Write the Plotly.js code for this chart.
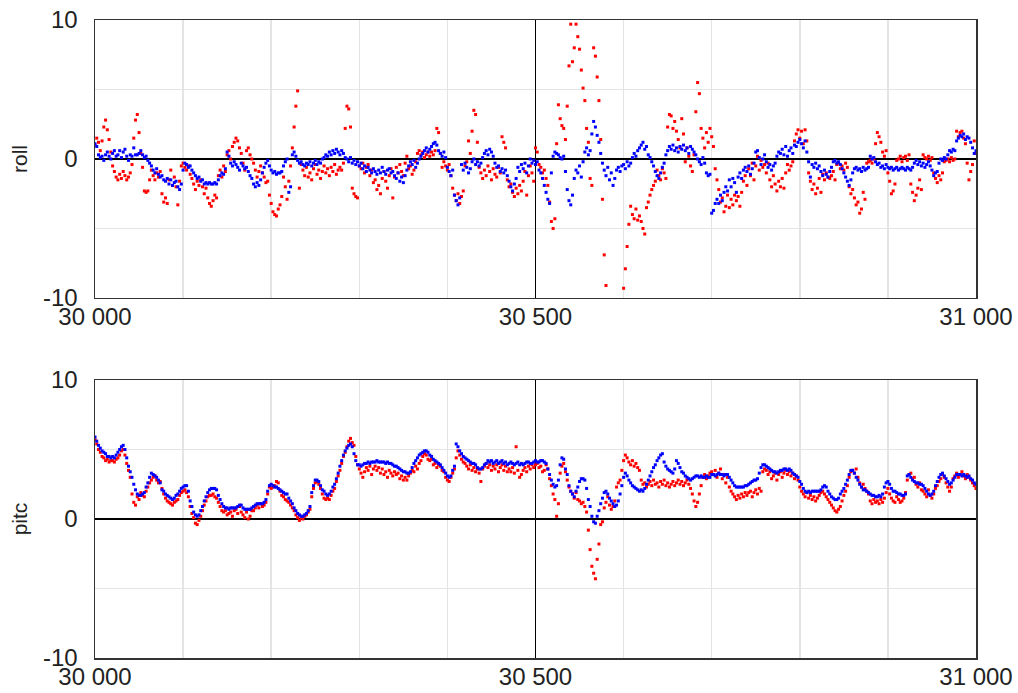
<!DOCTYPE html>
<html>
<head>
<meta charset="utf-8">
<script src="https://cdn.plot.ly/plotly-3.0.1.min.js"></script>
<style>
  html, body { margin: 0; padding: 0; background: #fff; }
  #chart { width: 1018px; height: 693px; }
</style>
</head>
<body>
<div id="chart"></div>
<script>
// sample index of the first value and spacing between samples
const xStart = 30000;
const xStep = 2;

const xTickVals = [30000, 30500, 31000];
const xTickText = ['30 000', '30 500', '31 000'];
const yTickVals = [-10, 0, 10];
const yTickText = ['-10', '0', '10'];
const panelTitles = ['roll', 'pitc'];

const rollBlue = [
 1.1, 0.9, 0.3, 0.1, 0.2, -0.1, 0.3, 0.5, 0.2, 0.0,
 0.4, 0.6, 0.2, 0.3, 0.6, 0.1, 0.5, 0.7, 0.2, -0.1,
 0.3, 0.2, 0.8, 0.3, 0.3, 0.4, 0.6, 0.3, 0.1, 0.2,
 -0.1, -0.3, -0.5, -0.8, -1.0, -0.7, -1.1, -1.3, -1.2, -1.5,
 -1.6, -1.4, -1.8, -1.5, -1.9, -1.7, -1.6, -2.0, -2.2, -1.8,
 -0.8, -0.3, -0.4, -0.6, -0.5, -0.8, -1.0, -1.2, -1.4, -1.3,
 -1.6, -1.5, -1.8, -1.7, -1.8, -1.7, -1.8, -1.8, -1.7, -1.8,
 -1.5, -1.2, -1.0, -1.1, -0.7, 0.5, 0.2, -0.3, -0.5, -0.2,
 -0.4, -0.6, -0.8, -0.3, -0.5, -0.7, -0.6, -0.9, -1.2, -1.4,
 -1.8, -2.0, -1.7, -1.9, -1.5, -1.0, -0.6, -0.3, -0.1, -0.5,
 -0.8, -1.0, -0.9, -1.1, -1.0, -1.0, -0.9, -0.5, -0.2, 0.0,
 -2.4, -2.0, 0.3, 0.5, 0.2, -0.1, -0.3, -0.2, -0.4, -0.5,
 -0.3, -0.4, -0.2, -0.5, -0.3, -0.1, -0.4, -0.2, -0.3, 0.0,
 0.1, 0.3, 0.2, 0.5, 0.3, 0.6, 0.4, 0.7, 0.5, 0.3,
 0.6, 0.4, 0.1, 0.0, -0.2, 0.1, -0.3, -0.1, -0.4, -0.2,
 -0.5, -0.3, -0.7, -0.5, -0.9, -0.6, -0.8, -1.0, -0.7, -0.9,
 -1.1, -0.8, -1.0, -0.6, -0.9, -1.1, -0.8, -0.7, -1.0, -0.9,
 -1.2, -1.4, -1.0, -1.6, -1.3, -1.7, -1.2, -0.8, -0.5, -0.2,
 -0.4, -0.1, -0.6, -0.3, 0.0, 0.2, 0.4, 0.6, 0.8, 0.5,
 0.7, 0.9, 1.1, 1.2, 1.0, 0.6, 0.4, 0.2, 0.5, 0.1,
 -0.6, -0.9, -1.2, -0.8, -2.6, -3.0, -3.3, -2.8, -0.4, -0.8,
 -0.3, -0.6, -1.0, -0.7, -0.2, 0.0, -0.4, -0.2, -0.5, -0.3,
 0.1, 0.4, 0.6, 0.3, 0.7, 0.5, 0.2, -0.3, -0.6, -0.5,
 -0.9, -0.7, -1.0, -0.8, -1.2, -1.6, -2.0, -2.3, -1.8, -1.4,
 -0.6, -0.9, -0.4, -0.7, -0.3, -1.0, -0.5, 0.0, -0.3, -0.1,
 -0.4, -0.2, -0.8, -1.0, -1.4, -1.9, -2.4, -2.9, -3.2, -1.0,
 0.2, 0.5, 0.4, 0.3, 0.1, 0.0, 0.2, -0.9, -2.2, -3.0,
 -3.3, -2.6, -1.4, -0.8, -1.0, -0.5, -1.3, -0.2, 0.5, 0.8,
 0.3, 0.6, 1.8, 2.7, 2.3, 1.7, 1.2, 0.4, -0.3, -0.8,
 -1.2, -0.6, -1.5, -1.0, -1.9, -1.4, -0.8, -0.6, -0.9, -0.5,
 -0.4, -0.7, -0.2, -0.5, -0.3, 0.1, 0.4, 0.2, 0.6, 0.8,
 1.0, 1.2, 0.7, 0.9, 0.3, 0.1, -0.2, -0.5, -0.9, -1.2,
 -1.4, -1.0, -0.6, -0.3, 0.3, 0.6, 0.9, 0.7, 1.0, 0.6,
 0.8, 0.5, 0.9, 0.7, 1.0, 0.6, 0.8, 0.4, 0.9, 0.7,
 0.5, 0.3, 0.0, -0.2, -0.4, 0.1, -0.3, -1.0, -1.2, -1.1,
 -3.9, -3.7, -3.2, -2.9, -3.2, -2.6, -3.0, -2.4, -2.0, -2.3,
 -1.5, -2.0, -1.4, -1.7, -2.4, -1.3, -1.0, -1.4, -0.8, -0.6,
 -0.9, -0.5, -1.1, -0.7, -0.3, 0.5, 0.6, 0.1, -0.4, 0.0,
 0.3, -0.2, -0.6, -0.4, -0.8, -0.5, -0.3, 0.2, 0.5, 0.4,
 0.7, 0.3, 0.9, 0.2, 0.6, 0.8, 0.4, 1.0, 0.9, 1.2,
 1.4, 1.1, 0.8, 1.3, 0.5, -0.2, -1.3, -0.4, -0.6, -0.3,
 -0.7, -0.5, -0.9, -1.2, -0.8, -1.1, -1.3, -0.9, -0.6, -0.2,
 -0.1, -0.3, -0.2, -0.4, -0.7, -1.0, -1.3, -1.6, -1.9, -1.5,
 -1.0, -0.7, -0.6, -0.8, -0.7, -0.9, -0.6, -0.8, -0.7, -0.6,
 0.2, 0.0, 0.1, -0.2, -0.4, -0.3, -0.6, -0.5, -0.7, -0.4,
 -0.6, -0.7, -0.6, -0.8, -0.7, -0.6, -0.8, -0.7, -0.6, -0.7,
 -0.8, -0.6, -0.7, -0.8, -0.6, -0.3, -0.1, -0.4, -0.2, -0.5,
 -0.3, -0.6, -0.4, -0.2, -0.5, -0.8, -1.2, -1.0, -0.9, -0.3,
 0.0, -0.1, 0.1, 0.0, 0.3, 0.6, 0.5, 0.7, 0.6, 1.3,
 1.5, 1.7, 1.6, 1.8, 1.4, 1.6, 1.5, 1.2, 0.8, 0.4,
 0.6
];

const rollRed = [
 1.0, 1.5, 1.2, 0.6, 1.3, 2.3, 2.8, 2.1, 1.4, 0.5,
 -0.5, -0.9, -1.3, -1.5, -1.1, -1.4, -0.9, -1.2, -1.5, -1.3,
 -1.0, -0.4, 1.5, 2.8, 3.2, 1.9, 0.4, -0.6, -2.3, -2.4,
 -2.3, -1.5, -0.8, -1.2, -1.5, -1.0, -1.3, -0.9, -2.5, -3.1,
 -2.8, -3.2, -1.5, -0.8, -1.9, -1.3, -2.0, -3.3, -1.6, -0.5,
 -0.3, -0.6, -0.8, -0.5, -1.1, -1.4, -1.8, -2.2, -1.6, -1.9,
 -1.5, -2.0, -2.5, -2.1, -2.8, -3.2, -3.4, -3.0, -2.6, -2.8,
 -1.2, -0.8, -1.3, -0.5, -0.9, 0.3, 0.6, 0.0, 0.9, 1.2,
 1.5, 1.3, 0.8, 0.4, -0.3, -0.8, 0.6, 0.8, 0.3, 0.0,
 -0.3, -0.8, -1.3, -0.9, -0.5, -1.0, -1.3, -1.7, -1.6, -2.6,
 -3.2, -3.8, -4.0, -4.1, -3.6, -3.3, -2.7, -1.3, -2.0, -2.9,
 -1.6, -0.5, 0.8, 2.3, 3.8, 4.9, -2.1, -0.4, -0.8, -1.2,
 -0.6, -1.3, -1.0, -1.5, -0.7, -0.4, -1.1, -0.8, -1.4, -0.9,
 -0.5, -1.0, -0.7, -1.2, -0.6, -0.9, -0.4, -1.1, -0.8, -0.6,
 -0.8, -0.3, 2.2, 3.8, 3.6, 2.3, -2.1, -2.5, -2.7, -2.8,
 -0.5, -0.7, -0.3, -1.0, -0.6, -0.4, -1.2, -0.8, -1.7, -1.5,
 -2.2, -1.9, -2.5, -1.4, -0.9, -1.6, -2.1, -1.2, -0.7, -2.8,
 -1.3, -0.6, -1.0, -0.4, -0.9, -1.2, -0.3, 0.2, -0.7, -0.5,
 -1.1, -0.8, -0.2, 0.4, 0.6, 0.3, 0.5, 0.1, 0.3, 0.5,
 0.2, 0.5, 0.3, 0.6, 2.2, 1.9, 0.4, -0.6, -0.2, -0.5,
 -0.8, -0.4, -1.2, -2.1, -2.6, -3.0, -2.5, -3.2, -2.7, -2.3,
 -0.5, -0.2, 1.3, 0.4, 2.0, 3.5, 3.2, 1.2, -0.6, -1.0,
 -1.4, -0.8, -1.2, -0.5, -0.9, -1.5, -0.7, -1.1, -1.3, -0.6,
 -1.0, 1.6, 1.2, 0.8, -1.5, -2.0, -1.8, -2.4, -2.7, -2.1,
 -2.5, -1.9, -2.3, -1.6, -0.9, -2.6, -1.2, -0.5, -1.0, -1.6,
 0.8, 0.5, -0.4, -0.6, -1.0, -0.8, -1.4, -1.9, -3.1, -4.5,
 -5.0, -4.3, 1.1, 3.9, 2.9, 2.4, 2.2, 1.4, 3.8, 6.7,
 9.7, 7.0, 8.0, 9.7, 8.8, 7.9, 6.4, 5.1, 4.2, 2.2,
 1.2, -1.4, -1.9, 8.0, 7.4, 5.9, 4.2, 1.4, -2.9, -6.9,
 -9.1, -11.5, -12.5, -13.0, -13.5, -13.2, -12.8, -12.0, -11.5, -10.8,
 -9.3, -7.9, -6.3, -4.7, -3.4, -4.0, -4.3, -3.6, -4.4, -4.1,
 -4.5, -5.0, -5.4, -3.5, -3.1, -2.6, -2.2, -1.9, -1.6, -0.8,
 -1.2, -1.5, -0.7, -1.0, -1.4, 2.3, 3.2, 3.1, 2.2, 2.7,
 2.0, 1.4, 0.8, 2.9, 1.8, -0.2, 0.8, 0.2, -0.5, -0.9,
 0.3, 3.4, 5.5, 4.7, 2.2, 1.5, 0.8, 1.9, 1.2, 2.2,
 1.6, 0.9, -0.7, -1.5, -2.2, -3.1, -2.8, -3.8, -3.4, -2.6,
 -3.5, -2.9, -3.3, -2.6, -3.0, -2.7, -3.4, -2.4, -1.6, -1.2,
 -1.9, -0.7, -1.2, -0.3, -1.5, -0.5, 0.2, -0.8, -0.1, -0.6,
 -0.4, -1.0, -0.3, -1.5, -2.0, -1.2, -1.8, -2.3, -1.6, -2.0,
 -1.4, -2.1, -1.0, -0.4, -0.8, -0.5, -0.2, 1.3, 1.8, 2.1,
 1.5, 2.0, 1.1, 2.1, 1.3, -1.0, -1.6, -2.2, -1.8, -2.5,
 -2.1, -1.4, -2.4, -1.1, -1.5, -1.0, -1.3, -1.4, -1.2, -0.9,
 -1.5, -0.4, -0.3, -0.7, -0.5, -0.8, -0.3, -0.6, -2.0, -2.5,
 -2.2, -2.8, -3.3, -3.1, -3.9, -3.6, -2.4, -2.9, -0.3, -0.2,
 -0.1, -0.3, 0.0, 1.1, 1.9, 1.6, 1.2, 0.5, 0.2, 0.6,
 -1.0, -1.6, -2.5, -2.3, -1.8, -0.1, 0.0, 0.2, -0.2, 0.1,
 0.2, -0.1, 0.3, -1.8, -2.4, -3.0, -2.6, -2.1, -1.5, -2.2,
 0.3, 0.1, 0.0, 0.2, -0.1, 0.1, -1.0, -1.4, -1.7, -1.2,
 -1.5, -1.0, -0.2, -0.1, 0.0, -0.2, 0.1, -0.1, 0.0, 2.0,
 1.6, 1.9, 2.0, 1.5, 1.1, -0.3, -1.5, -0.9, -0.4, 1.3,
 0.4
];

const pitchBlue = [
 5.9, 5.6, 5.3, 5.1, 4.9, 4.8, 4.7, 4.5, 4.5, 4.4,
 4.5, 4.4, 4.6, 4.8, 5.0, 5.2, 5.3, 5.0, 4.4, 3.8,
 3.4, 3.0, 2.5, 2.1, 1.8, 1.7, 1.7, 1.8, 1.9, 2.3,
 2.6, 3.0, 3.3, 3.2, 3.1, 3.0, 2.8, 2.6, 2.1, 2.0,
 1.8, 1.7, 1.6, 1.5, 1.4, 1.5, 1.7, 1.8, 2.0, 2.2,
 2.3, 2.4, 2.4, 2.0, 1.3, 0.9, 0.5, 0.3, 0.2, 0.3,
 0.6, 0.9, 1.3, 1.6, 1.9, 2.1, 2.2, 2.2, 2.2, 2.1,
 1.7, 1.4, 1.1, 0.9, 0.8, 0.8, 0.7, 0.8, 0.8, 0.8,
 0.8, 0.9, 1.0, 1.0, 0.8, 0.7, 0.7, 0.7, 0.7, 0.8,
 0.9, 1.0, 1.1, 1.1, 1.1, 1.1, 1.2, 1.4, 2.0, 2.4,
 2.5, 2.4, 2.3, 2.3, 2.2, 2.1, 2.0, 1.9, 1.8, 1.8,
 1.5, 1.3, 1.1, 0.8, 0.6, 0.4, 0.3, 0.2, 0.2, 0.3,
 0.4, 0.6, 0.9, 1.9, 2.4, 2.8, 2.8, 2.7, 2.4, 2.1,
 2.0, 1.8, 1.7, 1.8, 2.0, 2.3, 2.5, 2.9, 3.3, 3.8,
 4.2, 4.6, 4.9, 5.1, 5.3, 5.4, 5.2, 4.7, 4.2, 3.9,
 3.9, 3.8, 3.9, 4.0, 4.0, 4.1, 4.0, 4.1, 4.1, 4.1,
 4.2, 4.1, 4.1, 4.1, 4.1, 4.0, 4.1, 4.0, 4.0, 3.9,
 3.8, 3.8, 3.7, 3.6, 3.5, 3.4, 3.4, 3.3, 3.3, 3.4,
 3.7, 4.0, 4.2, 4.4, 4.6, 4.7, 4.8, 4.9, 4.9, 4.8,
 4.6, 4.5, 4.3, 4.2, 4.1, 4.0, 3.9, 3.7, 3.5, 3.3,
 3.1, 3.0, 3.1, 3.5, 3.8, 5.4, 5.2, 4.9, 4.7, 4.5,
 4.4, 4.3, 4.2, 4.1, 4.0, 4.0, 3.9, 3.7, 3.6, 3.6,
 3.7, 3.9, 4.0, 4.2, 4.1, 4.2, 4.0, 4.1, 4.2, 4.0,
 4.1, 4.2, 4.0, 4.1, 3.9, 4.0, 4.1, 4.0, 3.9, 4.0,
 4.1, 3.9, 4.0, 3.9, 4.0, 4.1, 4.1, 4.0, 4.0, 4.1,
 4.2, 4.1, 4.1, 4.2, 4.2, 4.1, 4.0, 3.6, 3.2, 2.8,
 2.5, 2.3, 2.4, 2.8, 3.9, 4.4, 4.3, 3.6, 3.2, 2.4,
 2.0, 1.8, 1.6, 2.0, 2.3, 2.7, 2.9, 2.9, 2.8, 2.2,
 1.4, 0.9, 0.2, -0.2, -0.3, 0.2, 0.6, 1.1, 1.5, 1.9,
 2.0, 1.8, 1.5, 1.3, 1.1, 0.9, 1.0, 1.3, 1.8, 2.4,
 3.0, 3.3, 3.1, 2.8, 2.6, 2.4, 2.3, 2.2, 2.1, 2.0,
 2.1, 2.0, 2.2, 2.5, 2.8, 3.1, 3.4, 3.7, 3.9, 4.2,
 4.4, 4.6, 4.7, 4.1, 3.8, 3.6, 3.5, 3.4, 3.3, 3.6,
 4.2, 4.0, 3.7, 3.4, 3.3, 3.1, 3.0, 2.9, 2.8, 2.9,
 3.0, 3.1, 3.1, 3.0, 3.1, 3.0, 3.0, 3.1, 3.0, 3.0,
 3.2, 3.2, 3.1, 3.2, 3.3, 3.2, 3.2, 3.1, 3.2, 3.2,
 3.0, 2.8, 2.6, 2.4, 2.3, 2.3, 2.3, 2.3, 2.3, 2.4,
 2.4, 2.5, 2.6, 2.7, 2.8, 2.8, 2.9, 3.3, 3.7, 3.9,
 3.9, 3.8, 3.7, 3.6, 3.5, 3.4, 3.4, 3.3, 3.4, 3.5,
 3.5, 3.6, 3.6, 3.5, 3.6, 3.5, 3.3, 3.2, 3.1, 3.0,
 2.7, 2.5, 2.2, 2.0, 1.9, 2.0, 1.9, 2.0, 2.0, 2.0,
 2.0, 2.0, 2.1, 2.3, 2.4, 2.3, 2.0, 1.8, 1.6, 1.5,
 1.4, 1.4, 1.5, 1.8, 2.0, 2.2, 2.5, 2.8, 3.2, 3.5,
 3.5, 3.3, 3.0, 2.8, 2.5, 2.3, 2.1, 2.1, 2.0, 1.9,
 1.8, 1.7, 1.7, 1.6, 1.6, 1.7, 1.6, 1.8, 2.3, 2.6,
 2.7, 2.5, 2.2, 2.0, 2.0, 1.9, 1.8, 1.8, 1.7, 1.7,
 1.8, 3.1, 3.2, 3.0, 2.8, 2.7, 2.6, 2.6, 2.5, 2.5,
 2.4, 2.2, 2.0, 1.8, 1.7, 1.8, 2.0, 2.4, 2.7, 3.0,
 3.2, 3.3, 3.1, 2.9, 2.7, 2.5, 2.6, 2.8, 3.0, 3.2,
 3.2, 3.2, 3.1, 3.2, 3.1, 3.0, 3.1, 2.9, 2.8, 2.6,
 2.5
];

const pitchRed = [
 5.7, 5.4, 5.0, 4.8, 4.5, 4.4, 4.2, 4.3, 4.1, 4.2,
 4.2, 4.1, 4.3, 4.4, 4.6, 4.9, 5.0, 4.6, 4.0, 3.5,
 3.0, 1.8, 1.2, 1.0, 1.6, 1.4, 1.9, 1.7, 1.6, 2.0,
 2.3, 2.6, 2.8, 3.0, 3.1, 2.8, 2.6, 2.7, 2.2, 1.8,
 1.5, 1.3, 1.2, 1.1, 1.0, 1.2, 1.3, 1.4, 1.7, 1.9,
 2.0, 2.1, 1.9, 1.6, 0.9, 0.4, 0.1, -0.3, -0.4, -0.1,
 0.2, 0.6, 1.0, 1.3, 1.6, 1.7, 1.7, 1.8, 1.6, 1.5,
 1.2, 0.9, 0.6, 0.5, 0.6, 0.3, 0.4, 0.5, 0.2, 0.6,
 0.7, 0.4, 0.9, 0.5, 0.3, 0.1, 0.5, 0.0, 0.2, 0.6,
 0.6, 0.8, 1.0, 0.8, 1.1, 0.9, 1.0, 1.2, 1.8, 2.3,
 2.2, 2.3, 2.4, 2.7, 2.6, 2.0, 1.7, 1.6, 1.4, 1.3,
 1.2, 1.0, 0.8, 0.6, 0.3, 0.1, -0.1, 0.1, 0.0, 0.2,
 0.3, 0.5, 0.7, 1.6, 2.2, 2.6, 2.7, 2.5, 2.2, 1.8,
 1.5, 1.4, 1.5, 1.4, 1.7, 2.0, 2.2, 2.7, 3.1, 3.5,
 4.0, 4.5, 4.8, 5.2, 5.6, 5.8, 5.5, 5.3, 4.5, 3.9,
 3.6, 3.3, 3.0, 3.4, 3.7, 3.5, 3.8, 3.2, 3.6, 3.8,
 3.5, 3.7, 3.3, 3.6, 3.2, 3.4, 3.0, 3.5, 3.3, 3.1,
 3.4, 3.2, 3.3, 2.9, 3.1, 2.8, 3.0, 2.8, 3.1, 3.3,
 3.5, 3.4, 3.8, 3.6, 4.0, 4.2, 4.5, 4.7, 4.6, 4.3,
 4.2, 4.3, 3.9, 4.0, 3.7, 3.9, 3.8, 3.5, 3.4, 3.0,
 2.8, 2.7, 3.0, 3.3, 3.6, 4.4, 4.9, 4.6, 4.3, 4.1,
 4.0, 3.8, 3.6, 3.9, 3.5, 3.7, 3.4, 3.6, 3.3, 2.7,
 3.6, 3.8, 4.0, 3.7, 3.9, 3.5, 3.8, 3.6, 3.9, 3.4,
 3.7, 3.9, 3.5, 3.8, 3.4, 3.6, 3.4, 3.7, 3.3, 5.2,
 3.5, 3.0, 3.2, 3.5, 3.7, 3.4, 3.8, 3.6, 3.9, 3.7,
 3.9, 4.0, 3.7, 3.8, 3.4, 3.5, 3.9, 3.6, 2.9, 2.4,
 1.8, 1.4, 0.2, 1.1, 3.3, 3.8, 4.0, 3.4, 2.8, 2.3,
 2.0, 1.8, 1.5, 1.9, 1.4, 1.3, 1.1, 1.2, 0.9, 0.5,
 -0.8, -2.2, -3.4, -3.9, -4.3, -2.9, -1.8, -0.4, -0.2, 0.8,
 1.2, 1.6, 1.0, 0.7, 0.9, 1.3, 2.3, 2.6, 2.8, 3.5,
 4.2, 4.6, 4.4, 4.1, 3.9, 4.2, 3.8, 4.0, 3.7, 3.5,
 2.8, 2.5, 2.6, 2.3, 2.5, 2.7, 2.4, 2.8, 2.5, 2.6,
 2.3, 2.7, 2.5, 2.8, 2.4, 2.6, 2.3, 2.5, 2.7, 2.4,
 2.6, 2.8, 2.5, 2.7, 2.4, 2.6, 2.8, 2.5, 2.2, 1.8,
 1.3, 0.9, 1.2, 1.8, 2.4, 3.0, 3.2, 2.9, 3.1, 3.3,
 3.4, 3.2, 3.5, 3.0, 3.3, 3.6, 2.9, 3.2, 2.6, 3.0,
 2.3, 2.0, 1.8, 1.6, 1.4, 1.7, 1.5, 1.8, 1.6, 1.9,
 1.7, 1.9, 2.0, 1.6, 1.9, 2.1, 1.8, 2.2, 2.0, 3.4,
 3.6, 3.5, 3.2, 3.4, 2.9, 3.1, 3.3, 2.8, 3.2, 3.4,
 3.0, 3.3, 3.5, 3.2, 3.4, 3.1, 3.3, 2.9, 3.1, 2.8,
 2.3, 2.0, 1.8, 1.6, 1.9, 1.5, 1.7, 1.4, 1.6, 1.3,
 1.5, 1.7, 1.9, 2.0, 1.8, 1.6, 1.4, 1.2, 1.0, 0.8,
 0.6, 0.5, 0.7, 0.9, 1.3, 1.7, 2.0, 2.4, 3.0, 3.4,
 3.5, 3.3, 3.6, 3.0, 2.6, 2.3, 2.5, 2.2, 2.0, 1.8,
 1.3, 1.1, 1.4, 1.2, 1.3, 1.1, 1.4, 1.2, 1.5, 1.9,
 2.2, 1.8, 1.5, 1.3, 1.2, 1.6, 1.4, 1.2, 1.3, 1.5,
 1.9, 2.8, 3.2, 3.3, 2.9, 3.0, 2.5, 2.3, 2.6, 2.1,
 2.0, 1.8, 1.6, 2.1, 1.7, 1.5, 1.8, 2.2, 2.4, 2.7,
 2.9, 3.2, 3.0, 2.6, 2.3, 2.0, 2.3, 2.9, 3.1, 3.3,
 3.0, 3.2, 3.4, 3.1, 2.9, 3.2, 3.0, 2.8, 2.6, 2.4,
 2.2
];

function xsFor(arr) {
  return arr.map((_, i) => xStart + i * xStep);
}

const RED = '#ff0000';
const BLUE = '#0000ff';

function pts(y, color, xa, ya) {
  return {
    type: 'scatter', mode: 'markers',
    x: xsFor(y), y: y,
    xaxis: xa, yaxis: ya,
    marker: { color: color, size: 3, symbol: 'square', line: { width: 0 } },
    hoverinfo: 'skip', cliponaxis: true
  };
}

const traces = [
  pts(rollRed, RED, 'x', 'y'),
  pts(rollBlue, BLUE, 'x', 'y'),
  pts(pitchRed, RED, 'x2', 'y2'),
  pts(pitchBlue, BLUE, 'x2', 'y2')
];

const FONT = 'Liberation Sans, Arial, Helvetica, sans-serif';
const TEXTC = '#222222';

function xAxis(anchor) {
  return {
    anchor: anchor, domain: [0, 1],
    range: [30000, 31000], fixedrange: true,
    tickmode: 'array', tickvals: xTickVals, ticktext: xTickText,
    ticks: '', ticklabelstandoff: -3,
    tickfont: { family: FONT, size: 24, color: TEXTC },
    showgrid: true, gridcolor: '#000000', gridwidth: 1.3,
    minor: { tickmode: 'linear', tick0: 30000, dtick: 100, showgrid: true,
             gridcolor: '#e4e4e4', gridwidth: 1.5, ticks: '' },
    zeroline: false,
    showline: true, mirror: true, linecolor: '#333333', linewidth: 1.5
  };
}

function yAxis(anchor, domain, title) {
  return {
    anchor: anchor, domain: domain,
    range: [-10, 10], fixedrange: true,
    tickmode: 'array', tickvals: yTickVals, ticktext: yTickText,
    ticks: 'outside', ticklen: 11, tickcolor: 'rgba(0,0,0,0)',
    tickfont: { family: FONT, size: 24, color: TEXTC },
    showgrid: true, gridcolor: '#000000', gridwidth: 1.3,
    minor: { tickmode: 'linear', tick0: 0, dtick: 5, showgrid: true,
             gridcolor: '#e4e4e4', gridwidth: 1.5, ticks: '' },
    zeroline: true, zerolinecolor: '#000000', zerolinewidth: 1.3,
    showline: true, mirror: true, linecolor: '#333333', linewidth: 1.5,
    title: { text: title, font: { family: FONT, size: 21, color: TEXTC }, standoff: 9 }
  };
}

const layout = {
  width: 1018, height: 693,
  margin: { l: 95, r: 42, t: 20, b: 35, pad: 0 },
  paper_bgcolor: '#ffffff', plot_bgcolor: '#ffffff',
  showlegend: false,
  font: { family: FONT, size: 22, color: TEXTC },
  xaxis: xAxis('y'),
  yaxis: yAxis('x', [0.5643, 1], panelTitles[0]),
  xaxis2: xAxis('y2'),
  yaxis2: yAxis('x2', [0, 0.4357], panelTitles[1])
};

Plotly.newPlot('chart', traces, layout, { staticPlot: true, displayModeBar: false });
</script>
</body>
</html>
